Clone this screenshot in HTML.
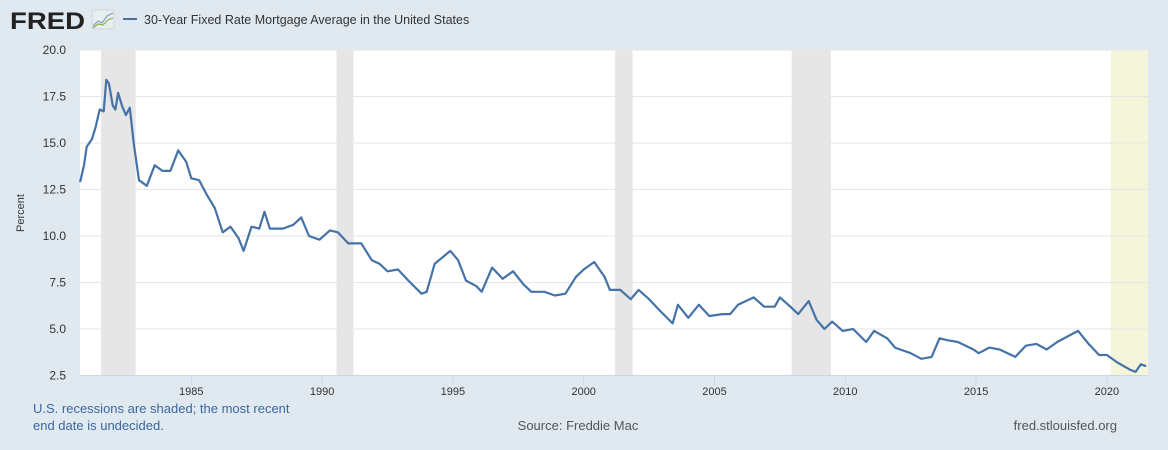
<!DOCTYPE html>
<html><head><meta charset="utf-8"><style>
body{margin:0;background:#e1e9f0;font-family:"Liberation Sans",sans-serif;}
svg{display:block}
</style></head><body>
<svg id="chart" width="1168" height="450" xmlns="http://www.w3.org/2000/svg">
<rect x="0" y="0" width="1168" height="450" fill="#e1e9f0"/>
<g>
<text x="10" y="29" font-size="24" font-weight="bold" fill="#222" font-family="Liberation Sans, sans-serif" textLength="75" lengthAdjust="spacingAndGlyphs">FRED</text>
<rect x="92" y="10" width="22" height="19" rx="2" fill="#e8edf0" stroke="#cfd6db"/>
<polyline points="93,26 98,21 102,23 107,16 113,13" fill="none" stroke="#7fa0c0" stroke-width="1.2"/>
<polyline points="93,28 98,24 103,25 108,20 113,18" fill="none" stroke="#8ab04a" stroke-width="1.2"/>
</g>
<g>
<line x1="123" y1="19" x2="137" y2="19" stroke="#4572a7" stroke-width="2"/>
<text x="144" y="24" font-size="12.5" fill="#333">30-Year Fixed Rate Mortgage Average in the United States</text>
</g>
<rect x="80" y="50" width="1068" height="325" fill="#fff"/>
<g id="rec"></g>
<g id="grid"></g>
<g id="yt"></g>
<g id="xt"></g>
<path id="line" fill="none" stroke="#4572a7" stroke-width="2.2" stroke-linejoin="round"/>
<text x="24" y="213" font-size="11" fill="#333" transform="rotate(-90 24 213)" text-anchor="middle">Percent</text>
<text x="33" y="413" font-size="13" fill="#3a67a2">U.S. recessions are shaded; the most recent</text>
<text x="33" y="430" font-size="13" fill="#3a67a2">end date is undecided.</text>
<text x="578" y="430" font-size="13" fill="#555" text-anchor="middle">Source: Freddie Mac</text>
<text x="1117" y="430" font-size="13" fill="#555" text-anchor="end">fred.stlouisfed.org</text>
</svg>
<script>
const years=[1980.75,1980.9,1981.0,1981.2,1981.35,1981.5,1981.65,1981.75,1981.85,1982.0,1982.1,1982.2,1982.35,1982.5,1982.65,1982.8,1983.0,1983.3,1983.6,1983.9,1984.2,1984.5,1984.8,1985.0,1985.3,1985.6,1985.9,1986.2,1986.5,1986.8,1987.0,1987.3,1987.6,1987.8,1988.0,1988.5,1988.9,1989.2,1989.5,1989.9,1990.3,1990.6,1991.0,1991.5,1991.9,1992.2,1992.5,1992.9,1993.3,1993.8,1994.0,1994.3,1994.9,1995.2,1995.5,1995.9,1996.1,1996.5,1996.9,1997.3,1997.7,1998.0,1998.5,1998.9,1999.3,1999.7,2000.0,2000.4,2000.8,2001.0,2001.4,2001.8,2002.1,2002.5,2002.9,2003.4,2003.6,2004.0,2004.4,2004.8,2005.3,2005.6,2005.9,2006.5,2006.9,2007.3,2007.5,2007.9,2008.2,2008.6,2008.9,2009.2,2009.5,2009.9,2010.3,2010.8,2011.1,2011.6,2011.9,2012.5,2012.9,2013.3,2013.6,2013.9,2014.3,2014.9,2015.1,2015.5,2015.9,2016.5,2016.9,2017.3,2017.7,2018.1,2018.5,2018.9,2019.3,2019.7,2020.0,2020.4,2020.9,2021.1,2021.3,2021.5];
const rates=[12.9,13.8,14.8,15.2,15.9,16.8,16.7,18.4,18.2,17.0,16.8,17.7,17.0,16.5,16.9,15.0,13.0,12.7,13.8,13.5,13.5,14.6,14.0,13.1,13.0,12.2,11.5,10.2,10.5,9.9,9.2,10.5,10.4,11.3,10.4,10.4,10.6,11.0,10.0,9.8,10.3,10.2,9.6,9.6,8.7,8.5,8.1,8.2,7.6,6.9,7.0,8.5,9.2,8.7,7.6,7.3,7.0,8.3,7.7,8.1,7.4,7.0,7.0,6.8,6.9,7.8,8.2,8.6,7.8,7.1,7.1,6.6,7.1,6.6,6.0,5.3,6.3,5.6,6.3,5.7,5.8,5.8,6.3,6.7,6.2,6.2,6.7,6.2,5.8,6.5,5.5,5.0,5.4,4.9,5.0,4.3,4.9,4.5,4.0,3.7,3.4,3.5,4.5,4.4,4.3,3.9,3.7,4.0,3.9,3.5,4.1,4.2,3.9,4.3,4.6,4.9,4.2,3.6,3.6,3.2,2.8,2.7,3.1,3.0];
const yTicks=[2.5,5.0,7.5,10.0,12.5,15.0,17.5,20.0];
const xTicks=[1985,1990,1995,2000,2005,2010,2015,2020];
const recStart=[1981.55,1990.55,2001.2,2007.95,2020.15];
const recEnd=[1982.87,1991.2,2001.87,2009.45,2021.7];
const NS="http://www.w3.org/2000/svg";
const X=y=>191.3+(y-1985)*26.16;
const Y=v=>50+(20-v)*18.6;
const clamp=x=>Math.max(80,Math.min(1148,x));
const rec=document.getElementById('rec');
recStart.forEach((s,i)=>{const r=document.createElementNS(NS,'rect');
r.setAttribute('x',clamp(X(s)));r.setAttribute('y',50);
r.setAttribute('width',clamp(X(recEnd[i]))-clamp(X(s)));r.setAttribute('height',325);
r.setAttribute('fill',i==recStart.length-1?'#f5f5dc':'#e6e6e6');


rec.appendChild(r);});
const grid=document.getElementById('grid'),yt=document.getElementById('yt'),xt=document.getElementById('xt');
yTicks.forEach(v=>{const l=document.createElementNS(NS,'line');
l.setAttribute('x1',80);l.setAttribute('x2',1148);l.setAttribute('y1',Y(v));l.setAttribute('y2',Y(v));
l.setAttribute('stroke',v==2.5?'#ccd6eb':'#e6e6e6');l.setAttribute('stroke-width',1);


grid.appendChild(l);
const t=document.createElementNS(NS,'text');t.setAttribute('x',66);t.setAttribute('y',Y(v)+4);
t.setAttribute('text-anchor','end');t.setAttribute('font-size','12');t.setAttribute('fill','#333');
t.textContent=v.toFixed(1);


yt.appendChild(t);});
xTicks.forEach(v=>{const l=document.createElementNS(NS,'line');
l.setAttribute('x1',X(v));l.setAttribute('x2',X(v));l.setAttribute('y1',375);l.setAttribute('y2',385);
l.setAttribute('stroke','#ccd6eb');


xt.appendChild(l);
const t=document.createElementNS(NS,'text');t.setAttribute('x',X(v));t.setAttribute('y',395);
t.setAttribute('text-anchor','middle');t.setAttribute('font-size','11');t.setAttribute('fill','#333');
t.textContent=v;


xt.appendChild(t);});
document.getElementById('line').setAttribute('d',years.map((y,i)=>(i?'L':'M')+clamp(X(y)).toFixed(1)+','+Y(rates[i]).toFixed(1)).join(''));
</script>
</body></html>
